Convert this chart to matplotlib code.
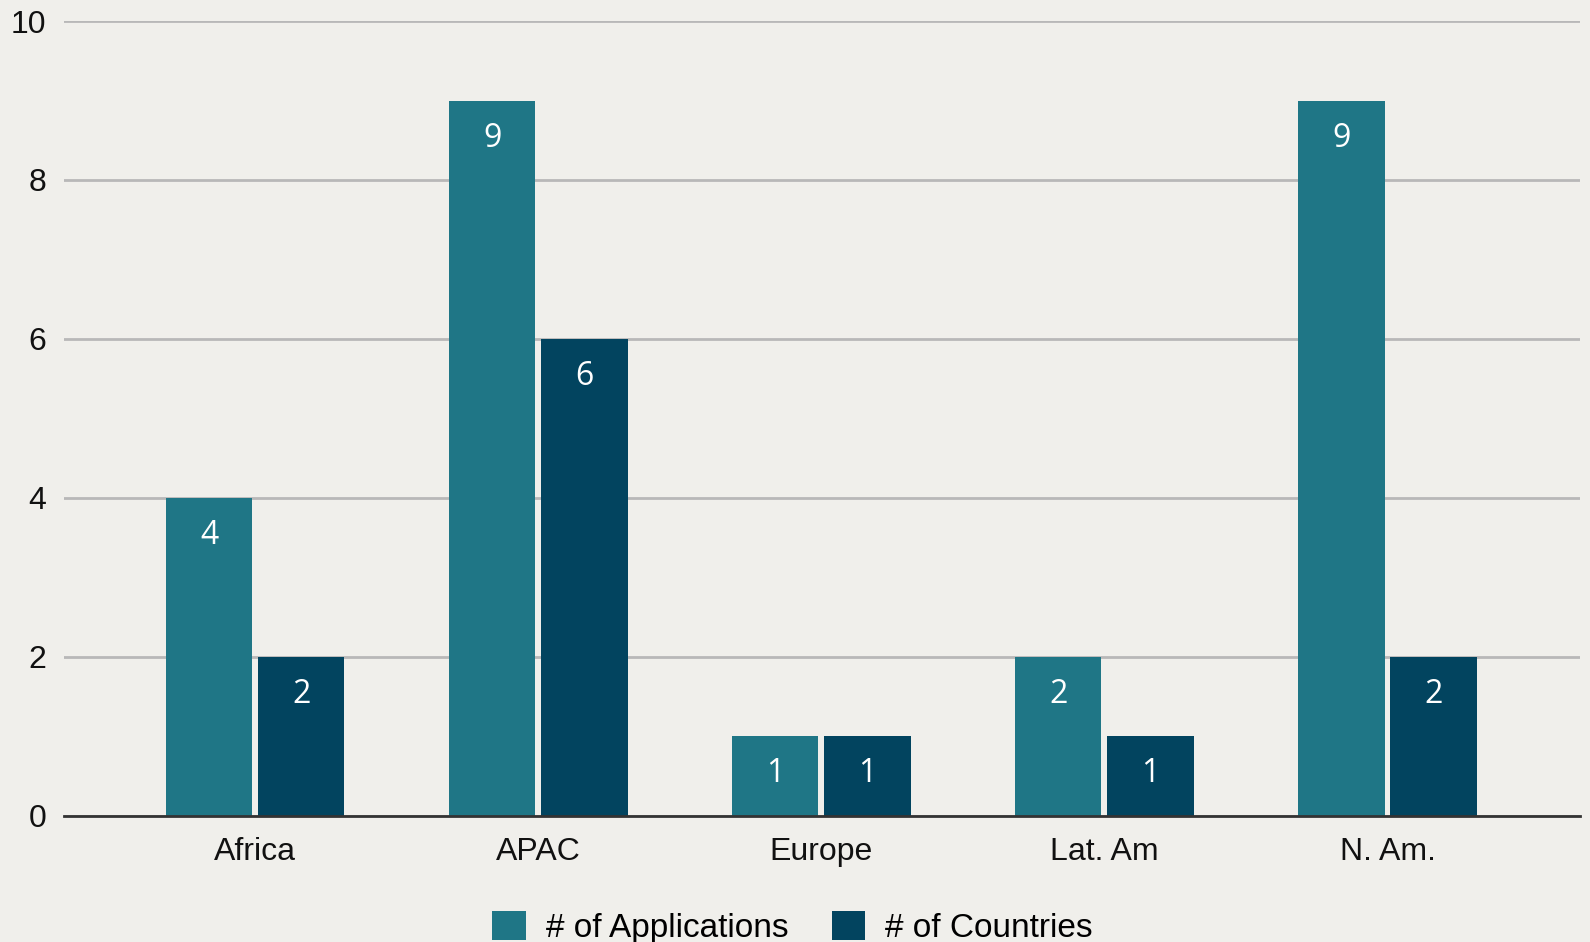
import numpy as np
import matplotlib.pyplot as plt

# --- chart data ---
regions = ["Africa", "APAC", "Europe", "Lat. Am", "N. Am."]
applications = [4, 9, 1, 2, 9]
countries = [2, 6, 1, 1, 2]

teal = "#1f7686"
navy = "#02445f"
bg = "#f0efeb"

plt.rcParams['font.family'] = ['Liberation Sans', 'DejaVu Sans']

fig = plt.figure(figsize=(15.9, 9.42), dpi=100, facecolor=bg)
ax = fig.add_axes([0.0403, 0.1338, 0.9534, 0.8439], facecolor=bg)

x = np.arange(len(regions))
w = 0.305
off = 0.163
b1 = ax.bar(x - off, applications, w, color=teal, label="# of Applications", zorder=3)
b2 = ax.bar(x + off, countries, w, color=navy, label="# of Countries", zorder=3)

# value labels just inside the top of each bar
for bars in (b1, b2):
    for r in bars:
        ax.annotate(f"{int(r.get_height())}", (r.get_x() + r.get_width() / 2, r.get_height()),
                    xytext=(0, -27), textcoords="offset points", ha="center", va="center",
                    color="white", fontsize=23, family=["Open Sans", "DejaVu Sans"], zorder=4)

ax.set_xlim(-0.675, 4.68)
ax.set_ylim(0, 10)
ax.set_yticks([0, 2, 4, 6, 8, 10])
ax.set_xticks(x)
ax.set_xticklabels(regions)
ax.tick_params(axis="both", length=0, labelsize=23, colors="#111111")
ax.tick_params(axis="y", pad=13)
ax.tick_params(axis="x", pad=15)

ax.grid(axis="y", color="#b8b8b8", linewidth=2, zorder=0)
for s in ["top", "right", "left"]:
    ax.spines[s].set_visible(False)
ax.spines["bottom"].set_color("#333333")
ax.spines["bottom"].set_linewidth(2)
ax.spines["bottom"].set_zorder(5)

ax.legend(loc="center", bbox_to_anchor=(0.4805, -0.14), ncol=2, frameon=False,
          fontsize=24, handlelength=1.0, handleheight=1.0, handletextpad=0.6,
          columnspacing=1.3)

fig.savefig("out.png", dpi=100, facecolor=bg)
